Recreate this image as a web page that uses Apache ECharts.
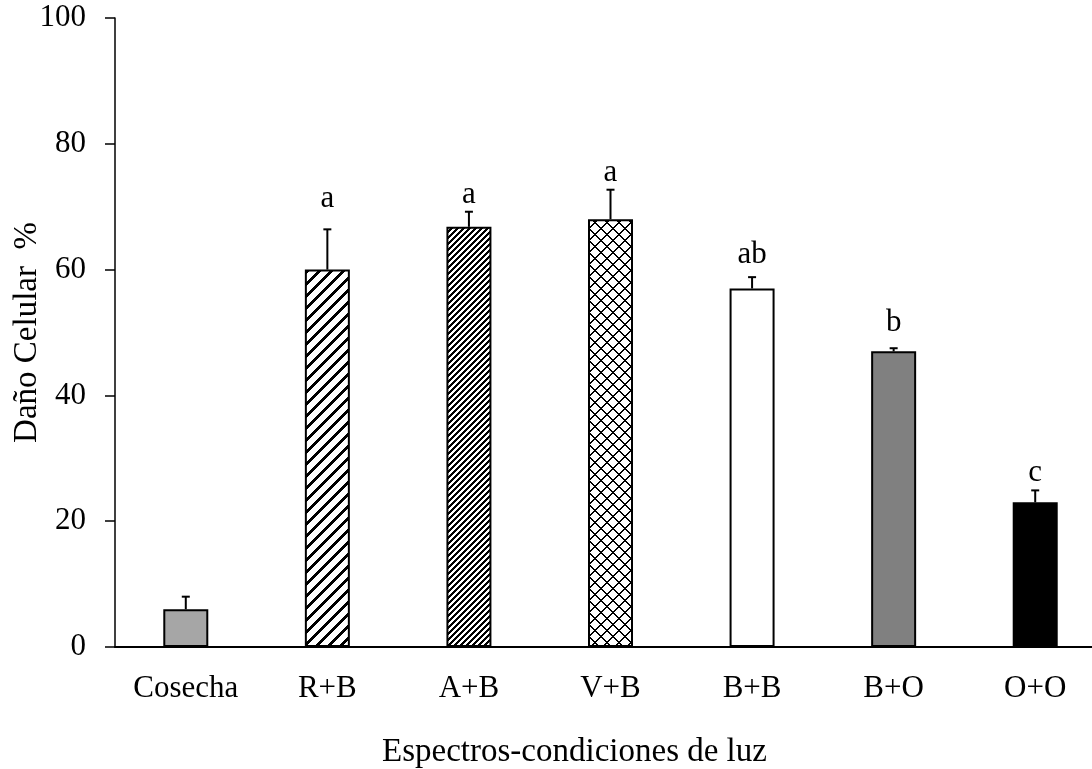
<!DOCTYPE html>
<html>
<head>
<meta charset="utf-8">
<script src="https://cdn.jsdelivr.net/npm/echarts@6/dist/echarts.min.js"></script>
<style>html,body{margin:0;padding:0;background:#fff}#c{width:1092px;height:769px}</style>
</head>
<body>
<div id="c"></div>
<script>
var categories = ['Cosecha', 'R+B', 'A+B', 'V+B', 'B+B', 'B+O', 'O+O'];
var values = [6.0, 60.0, 66.8, 68.0, 57.0, 47.0, 23.0];
var errors = [2.0, 6.4, 2.4, 4.7, 1.8, 0.5, 1.9];
var letters = ['', 'a', 'a', 'a', 'ab', 'b', 'c'];
var letterBase = [0, 69.8, 70.3, 73.8, 60.8, 50.1, 26.1];
var yTicks = [0, 20, 40, 60, 80, 100];

function makePattern(period, thick, cross) {
  var c = document.createElement('canvas');
  c.width = period; c.height = period;
  var ctx = c.getContext('2d');
  var img = ctx.createImageData(period, period);
  for (var y = 0; y < period; y++) {
    for (var x = 0; x < period; x++) {
      var on = ((x + y) % period) < thick;
      if (cross) on = on || (((x - y + period * 4) % period) < thick);
      var i = (y * period + x) * 4;
      var v = on ? 0 : 255;
      img.data[i] = v; img.data[i + 1] = v; img.data[i + 2] = v; img.data[i + 3] = 255;
    }
  }
  ctx.putImageData(img, 0, 0);
  return { image: c, repeat: 'repeat' };
}

var fills = [
  '#a6a6a6',
  makePattern(12, 4, false),
  makePattern(6, 3, false),
  makePattern(12, 2, true),
  '#ffffff',
  '#808080',
  '#000000'
];

var font = 'Liberation Serif, Times New Roman, serif';
var fs = 31;
var nameFs = 33;
var chart = echarts.init(document.getElementById('c'));

var barData = values.map(function (v, i) {
  return { value: v, itemStyle: { color: fills[i] } };
});
var errData = values.map(function (v, i) { return [i, v, v + errors[i]]; });
var letterData = letters.map(function (l, i) { return [i, letterBase[i], l]; });

chart.setOption({
  animation: false,
  grid: { left: 115, top: 18, width: 991, height: 629, containLabel: false, outerBoundsMode: 'none' },
  xAxis: {
    type: 'category',
    data: categories,
    name: 'Espectros-condiciones de luz',
    nameLocation: 'middle',
    nameGap: 89,
    nameMoveOverlap: false,
    nameTextStyle: { fontFamily: font, fontSize: nameFs, color: '#000', padding: [0, 72, 0, 0] },
    axisLine: { lineStyle: { color: '#000', width: 2 } },
    axisTick: { show: false },
    axisLabel: { fontFamily: font, fontSize: fs, color: '#000', margin: 26 }
  },
  yAxis: {
    type: 'value',
    min: 0, max: 100, interval: 20,
    name: 'Daño Celular  %',
    nameLocation: 'middle',
    nameGap: 71,
    nameMoveOverlap: false,
    nameTextStyle: { fontFamily: font, fontSize: nameFs, color: '#000' },
    axisLine: { show: true, lineStyle: { color: '#000', width: 1.5 } },
    axisTick: { show: true, length: 10, lineStyle: { color: '#000', width: 1.5 } },
    splitLine: { show: false },
    axisLabel: {
      fontFamily: font, fontSize: fs, color: '#000', margin: 29,
      formatter: function (v) { return yTicks.indexOf(v) >= 0 ? String(v) : ''; }
    }
  },
  series: [
    {
      type: 'bar',
      data: barData,
      barWidth: 45,
      itemStyle: { borderColor: '#000', borderWidth: 2 },
      z: 2
    },
    {
      type: 'custom',
      data: errData,
      z: 3,
      renderItem: function (params, api) {
        var x = api.coord([api.value(0), api.value(1)])[0];
        var y0 = api.coord([api.value(0), api.value(1)])[1];
        var y1 = api.coord([api.value(0), api.value(2)])[1];
        return {
          type: 'group',
          children: [
            { type: 'line', shape: { x1: x, y1: y0, x2: x, y2: y1 }, style: { stroke: '#000', lineWidth: 2 } },
            { type: 'line', shape: { x1: x - 4, y1: y1, x2: x + 4, y2: y1 }, style: { stroke: '#000', lineWidth: 2 } }
          ]
        };
      }
    },
    {
      type: 'custom',
      data: letterData,
      z: 4,
      renderItem: function (params, api) {
        var p = api.coord([api.value(0), api.value(1)]);
        return {
          type: 'text',
          x: p[0], y: p[1] + 6,
          style: {
            text: letters[params.dataIndex],
            fontFamily: font, fontSize: fs, fill: '#000',
            align: 'center', verticalAlign: 'bottom'
          }
        };
      }
    }
  ]
});
</script>
</body>
</html>
